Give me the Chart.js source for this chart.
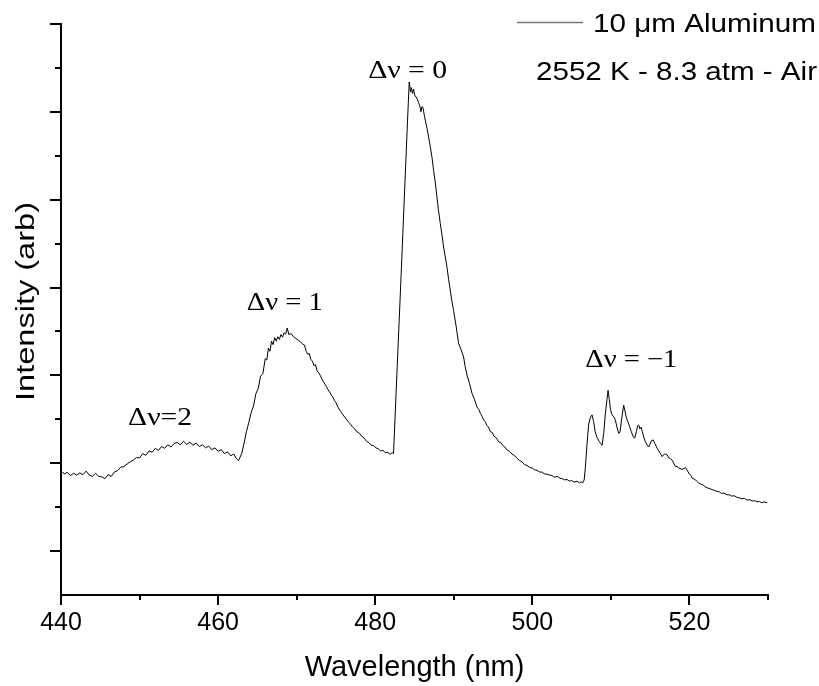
<!DOCTYPE html>
<html>
<head>
<meta charset="utf-8">
<script src="https://cdn.jsdelivr.net/npm/chart.js@4.4.1/dist/chart.umd.min.js"></script>
<style>
html,body{margin:0;padding:0;background:#fff;}
#wrap{width:819px;height:686px;}
</style>
</head>
<body>
<div id="wrap"><canvas id="c" width="819" height="686"></canvas></div>
<script>
// ---- data ----
const wavelength = [
440.0,440.4,440.8,441.2,441.6,442.0,442.4,442.8,443.2,443.6,444.0,444.4,444.8,445.2,445.6,446.0,446.4,446.8,447.2,447.6,
448.0,448.4,448.8,449.2,449.6,450.0,450.4,450.8,451.2,451.6,452.0,452.4,452.8,453.2,453.6,454.0,454.4,454.8,455.2,455.6,
456.0,456.4,456.8,457.2,457.6,458.0,458.4,458.8,459.2,459.6,460.0,460.4,460.8,461.2,461.6,462.0,462.3,462.6,
463.0,463.3,463.6,463.9,464.2,464.5,464.8,465.1,465.4,465.7,466.0,466.2,466.4,466.6,466.8,467.0,467.2,467.4,467.6,467.8,
468.0,468.2,468.4,468.6,468.8,469.0,469.3,469.6,469.9,470.2,470.5,470.8,471.0,471.2,471.4,471.6,471.8,472.0,472.2,472.4,
472.6,472.8,473.0,473.2,473.4,473.6,473.8,474.0,474.2,474.4,474.6,474.8,475.0,475.3,475.6,475.9,476.2,476.5,476.8,477.1,
477.4,477.7,478.0,478.3,478.6,478.9,479.2,479.5,479.8,480.1,480.4,480.7,481.0,481.3,481.6,481.9,482.15,482.33,
482.8,483.3,483.8,484.1,484.33,484.5,484.6,484.75,484.88,485.05,485.22,485.4,485.52,485.7,485.82,485.95,486.08,486.25,486.37,
486.6,486.79,487.0,487.22,487.43,487.65,487.86,488.05,488.28,488.5,488.7,488.9,489.13,489.35,489.55,489.75,489.97,490.3,490.61,
490.9,491.25,491.45,491.68,492.0,492.32,492.6,492.96,493.2,493.4,493.6,493.8,494.0,494.2,494.4,494.65,494.9,495.1,495.4,495.71,
496.0,496.2,496.5,496.78,497.1,497.4,497.7,498.06,498.4,498.7,499.0,499.32,499.7,500.0,500.3,500.6,500.9,501.2,501.5,501.87,
502.2,502.5,502.8,503.15,503.5,503.8,504.1,504.42,504.7,505.0,505.3,505.69,506.0,506.2,506.4,506.6,506.75,506.94,507.17,507.4,
507.6,507.8,508.0,508.2,508.5,508.7,508.88,509.1,509.3,509.5,509.64,509.8,509.95,510.15,510.4,510.57,510.8,511.0,511.15,511.4,
511.63,511.8,511.95,512.15,512.39,512.6,512.8,513.03,513.25,513.4,513.54,513.7,513.85,514.0,514.2,514.39,514.6,514.81,515.0,515.2,
515.38,515.6,515.89,516.1,516.3,516.52,516.8,517.0,517.16,517.4,517.6,517.8,518.0,518.22,518.4,518.6,518.8,519.07,519.3,519.5,
519.71,520.0,520.2,520.34,520.6,520.9,521.18,521.5,521.8,522.0,522.25,522.6,522.9,523.2,523.53,523.8,524.1,524.4,524.8,525.1,
525.4,525.7,526.08,526.4,526.7,527.0,527.35,527.7,528.0,528.3,528.62,528.9,529.2,529.5,529.9
];
const intensity = [
2.82,2.76,2.79,2.72,2.77,2.73,2.78,2.74,2.82,2.73,2.70,2.77,2.70,2.69,2.65,2.74,2.70,2.80,2.83,2.91,
2.92,2.98,3.03,3.07,3.13,3.12,3.22,3.18,3.28,3.25,3.34,3.29,3.38,3.34,3.42,3.37,3.45,3.47,3.42,3.50,
3.43,3.48,3.41,3.46,3.38,3.42,3.35,3.39,3.31,3.35,3.27,3.31,3.22,3.26,3.17,3.21,3.11,3.06,
3.22,3.45,3.72,3.92,4.15,4.30,4.58,4.70,4.98,5.04,5.38,5.35,5.62,5.55,5.78,5.70,5.86,5.78,5.88,5.82,
5.93,5.87,5.97,5.94,6.08,5.93,5.95,5.88,5.84,5.80,5.76,5.71,5.69,5.55,5.48,5.50,5.36,5.33,5.22,5.25,
5.10,5.06,5.00,4.92,4.86,4.80,4.74,4.67,4.62,4.55,4.51,4.43,4.38,4.26,4.18,4.10,4.03,3.96,3.90,3.83,
3.78,3.71,3.68,3.61,3.57,3.50,3.47,3.41,3.40,3.35,3.33,3.28,3.29,3.24,3.25,3.20,3.24,3.22,
5.20,7.30,9.45,10.75,11.68,11.45,11.55,11.42,11.52,11.36,11.34,11.27,11.21,11.12,11.00,11.12,11.10,10.92,10.81,
10.62,10.43,10.22,9.97,9.67,9.38,9.06,8.76,8.46,8.20,7.92,7.72,7.47,7.18,6.94,6.70,6.48,6.12,5.73,
5.60,5.42,5.20,5.01,4.82,4.59,4.47,4.28,4.22,4.13,4.07,3.98,3.95,3.86,3.83,3.72,3.70,3.62,3.58,3.49,
3.47,3.41,3.37,3.30,3.27,3.21,3.18,3.11,3.06,3.03,2.97,2.95,2.90,2.89,2.85,2.84,2.80,2.80,2.76,2.75,
2.73,2.72,2.68,2.70,2.66,2.65,2.62,2.63,2.59,2.61,2.57,2.59,2.55,2.58,2.55,2.62,2.90,3.39,3.89,4.05,
4.10,3.95,3.72,3.60,3.50,3.45,3.41,3.70,4.13,4.45,4.66,4.45,4.22,4.10,4.05,3.98,3.80,3.68,3.70,4.05,
4.32,4.18,4.05,3.95,3.83,3.72,3.62,3.57,3.72,3.85,3.87,3.78,3.82,3.72,3.58,3.49,3.42,3.37,3.44,3.52,
3.53,3.45,3.34,3.28,3.22,3.15,3.21,3.20,3.19,3.12,3.10,3.07,3.00,2.92,2.93,2.90,2.88,2.86,2.88,2.90,
2.84,2.75,2.72,2.66,2.64,2.60,2.55,2.52,2.50,2.46,2.44,2.42,2.40,2.38,2.36,2.35,2.31,2.32,2.28,2.28,
2.25,2.26,2.22,2.21,2.19,2.20,2.16,2.17,2.14,2.15,2.12,2.13,2.10,2.12,2.10
];
const xTickValues = [440, 460, 480, 500, 520];
const xMinorTickValues = [450, 470, 490, 510, 530];
const yMajorTickValues = [1, 3, 5, 7, 9, 11, 13];
const yMinorTickValues = [2, 4, 6, 8, 10, 12];
const seriesLabel = '10 \u03bcm Aluminum';
const conditionText = '2552 K - 8.3 atm - Air';
const xTitle = 'Wavelength (nm)';
const yTitle = 'Intensity (arb)';

// band annotations (anchored in data units: left edge wavelength, baseline intensity)
const bandNotes = [
  { text: '\u0394\u03bd = 0',      at: [479.1, 11.76], width: 79 },
  { text: '\u0394\u03bd = 1',      at: [463.66, 6.48], width: 76 },
  { text: '\u0394\u03bd=2',        at: [448.54, 3.87], width: 64 },
  { text: '\u0394\u03bd = \u22121', at: [506.75, 5.19], width: 92 }
];

const SANS = '"Liberation Sans", Arial, sans-serif';
const SERIF = '"Liberation Serif", "Times New Roman", serif';

function stretchText(ctx, text, x, y, targetW) {
  const w = ctx.measureText(text).width;
  const sx = targetW ? targetW / w : 1;
  ctx.save();
  ctx.translate(x, y);
  ctx.scale(sx, 1);
  ctx.fillText(text, 0, 0);
  ctx.restore();
}

const decor = {
  id: 'decor',
  afterDraw(chart) {
    const { ctx, chartArea, scales: { x, y } } = chart;
    ctx.save();
    ctx.strokeStyle = '#000';
    ctx.lineWidth = 2;
    // y-axis tick marks (outward)
    const yl = chartArea.left;
    const yt = [...yMajorTickValues.map(v => [v, 11]), ...yMinorTickValues.map(v => [v, 6])];
    yt.forEach(([v, len]) => {
      const py = Math.round(y.getPixelForValue(v));
      ctx.beginPath(); ctx.moveTo(yl, py); ctx.lineTo(yl - len, py); ctx.stroke();
    });
    // x-axis tick marks (outward)
    const xb = chartArea.bottom;
    const xt = [...xTickValues.map(v => [v, 10]), ...xMinorTickValues.map(v => [v, 5])];
    xt.forEach(([v, len]) => {
      const px = Math.round(x.getPixelForValue(v));
      ctx.beginPath(); ctx.moveTo(px, xb); ctx.lineTo(px, xb + len); ctx.stroke();
    });

    // y-axis title (rotated)
    ctx.fillStyle = '#000';
    ctx.font = '26px ' + SANS;
    ctx.textAlign = 'center';
    ctx.textBaseline = 'alphabetic';
    ctx.save();
    ctx.translate(33.5, (chartArea.top + chartArea.bottom) / 2 - 8);
    ctx.rotate(-Math.PI / 2);
    stretchText(ctx, yTitle, 0, 0, 199);
    ctx.restore();

    // band annotations
    ctx.textAlign = 'left';
    ctx.font = '25px ' + SERIF;
    bandNotes.forEach(n => {
      const px = x.getPixelForValue(n.at[0]);
      const py = y.getPixelForValue(n.at[1]);
      stretchText(ctx, n.text, px, py, n.width);
    });

    // legend
    ctx.strokeStyle = '#777';
    ctx.lineWidth = 1.5;
    ctx.beginPath(); ctx.moveTo(517, 22.5); ctx.lineTo(583, 22.5); ctx.stroke();
    ctx.fillStyle = '#000';
    ctx.font = '26px ' + SANS;
    stretchText(ctx, seriesLabel, 593, 32, 223);
    stretchText(ctx, conditionText, 536, 80, 281);
    ctx.restore();
  }
};

new Chart(document.getElementById('c'), {
  type: 'line',
  data: {
    datasets: [{
      label: seriesLabel,
      data: wavelength.map((w, i) => ({ x: w, y: intensity[i] })),
      borderColor: '#000',
      borderWidth: 1,
      pointRadius: 0,
      tension: 0,
      fill: false
    }]
  },
  options: {
    responsive: false,
    animation: false,
    devicePixelRatio: 1,
    layout: { padding: { top: 24, right: 51, left: 0, bottom: 0 } },
    plugins: { legend: { display: false }, tooltip: { enabled: false } },
    scales: {
      x: {
        type: 'linear',
        min: 440,
        max: 530,
        afterBuildTicks: s => { s.ticks = xTickValues.map(v => ({ value: v })); },
        afterFit: s => { s.height = 91; },
        grid: { display: false, drawTicks: false },
        border: { display: true, color: '#000', width: 2 },
        ticks: { color: '#000', font: { family: SANS, size: 25 }, padding: 13, maxRotation: 0, autoSkip: false },
        title: { display: true, text: xTitle, color: '#000', font: { family: SANS, size: 29 }, padding: { top: 0, bottom: 1 } }
      },
      y: {
        min: 0,
        max: 13,
        afterFit: s => { s.width = 61; },
        grid: { display: false, drawTicks: false },
        border: { display: true, color: '#000', width: 2 },
        ticks: { display: false },
        title: { display: false }
      }
    }
  },
  plugins: [decor]
});
</script>
</body>
</html>
